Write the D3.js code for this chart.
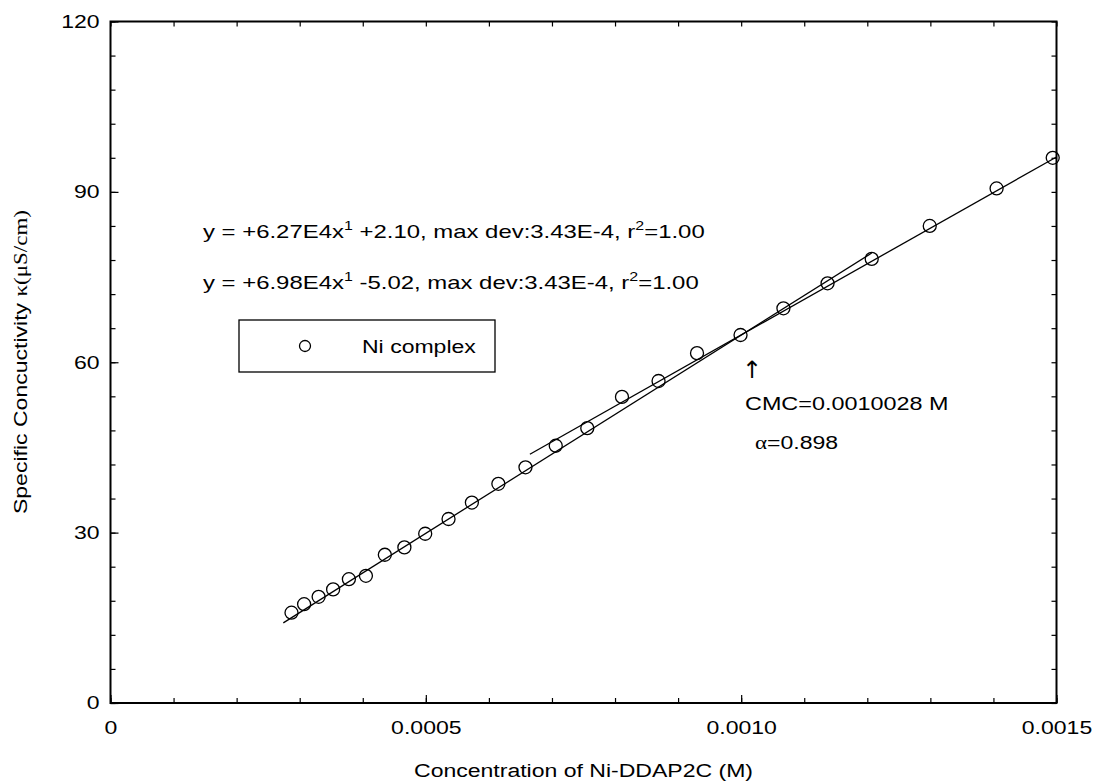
<!DOCTYPE html>
<html>
<head>
<meta charset="utf-8">
<script src="https://cdn.jsdelivr.net/npm/d3@7"></script>
<style>
body{margin:0;background:#fff}
text{font-family:"Liberation Sans",Arial,sans-serif;fill:#000}
</style>
</head>
<body>
<svg></svg>
<script>
var width=1094;
var height=784;

// measured points (M, uS/cm)
var conc=[0.000287,0.000307,0.000330,0.000353,0.000378,0.000405,0.000435,0.000466,0.000499,
	0.000536,0.000573,0.000615,0.000658,0.000706,0.000756,0.000811,0.000869,0.000930,0.000999,
	0.001067,0.001137,0.001207,0.001299,0.001405,0.001494];
var kappa=[15.9,17.4,18.7,20.0,21.8,22.4,26.1,27.4,29.8,
	32.4,35.3,38.6,41.5,45.3,48.4,53.9,56.7,61.6,64.8,
	69.5,73.9,78.2,84.0,90.6,96.0];

// linear fits: below / above cmc
var fitSlope=[6.98e4,6.27e4];
var fitIntercept=[-5.02,2.10];
var fitFrom=[0.000274,0.000665];
var fitTo=[0.001207,0.0015];

var xMajor=[0,0.0005,0.0010,0.0015];
var xLabels=["0","0.0005","0.0010","0.0015"];
var xMinor=d3.range(0,16).map(d=>d*0.0001);
var yMajor=[0,30,60,90,120];
var yLabels=["0","30","60","90","120"];
var yMinor=d3.range(0,21).map(d=>d*6);

var padL=110.5, padR=1056.5, padT=21.5, padB=703;
var fs="18px";
var sx=1.28;   // the original lettering is wide

var svg=d3.select("svg")
	.attr("width",width)
	.attr("height",height);

var scalex=d3.scaleLinear()
	.domain([0,0.0015])
	.range([padL,padR]);

var scaley=d3.scaleLinear()
	.domain([0,120])
	.range([padB,padT]);

function styleAxis(g){
	g.select(".domain").remove();
	g.selectAll("line").attr("stroke","#000").attr("stroke-width",1.2);
	g.selectAll("text")
		.attr("font-family",null)
		.attr("font-size",null)
		.style("font-size",fs)
		.attr("transform","scale("+sx+",1)");
}

function label(x,y,str,extra,k){
	return svg.append("text")
		.attr("transform","translate("+x+","+y+")"+(extra||"")+" scale("+(k||sx)+",1)")
		.style("font-size",fs)
		.text(str);
}

// minor ticks on all four sides
svg.append("g").attr("transform","translate(0,"+padB+")")
	.call(d3.axisBottom(scalex).tickValues(xMinor).tickSize(-5).tickFormat(""))
	.call(styleAxis);
svg.append("g").attr("transform","translate(0,"+padT+")")
	.call(d3.axisTop(scalex).tickValues(xMinor).tickSize(-5).tickFormat(""))
	.call(styleAxis);
svg.append("g").attr("transform","translate("+padL+",0)")
	.call(d3.axisLeft(scaley).tickValues(yMinor).tickSize(-5).tickFormat(""))
	.call(styleAxis);
svg.append("g").attr("transform","translate("+padR+",0)")
	.call(d3.axisRight(scaley).tickValues(yMinor).tickSize(-5).tickFormat(""))
	.call(styleAxis);

// major ticks with labels
svg.append("g").attr("transform","translate(0,"+padB+")")
	.call(d3.axisBottom(scalex).tickValues(xMajor).tickSize(-8).tickPadding(18)
		.tickFormat((d,i)=>xLabels[i]))
	.call(styleAxis);
svg.append("g").attr("transform","translate("+padL+",0)")
	.call(d3.axisLeft(scaley).tickValues(yMajor).tickSize(-8).tickPadding(8.5)
		.tickFormat((d,i)=>yLabels[i]))
	.call(styleAxis);

// frame
svg.append("rect")
	.attr("x",padL).attr("y",padT)
	.attr("width",padR-padL).attr("height",padB-padT)
	.attr("fill","none").attr("stroke","#000").attr("stroke-width",2);

// fit lines
fitSlope.forEach(function(m,i){
	svg.append("line")
		.attr("x1",scalex(fitFrom[i]))
		.attr("y1",scaley(m*fitFrom[i]+fitIntercept[i]))
		.attr("x2",scalex(fitTo[i]))
		.attr("y2",scaley(m*fitTo[i]+fitIntercept[i]))
		.attr("stroke","#000")
		.attr("stroke-width",1.3);
});

// points
svg.selectAll(".pt")
	.data(conc)
	.enter()
	.append("circle")
	.classed("pt",true)
	.attr("cx",d=>scalex(d))
	.attr("cy",(d,i)=>scaley(kappa[i]))
	.attr("r",6.5)
	.attr("fill","none")
	.attr("stroke","#000")
	.attr("stroke-width",1.3);

// equations
function equation(y,parts){
	var t=label(203,y,null,"",1.33);
	t.append("tspan").text(parts[0]);
	t.append("tspan").attr("dy",-8).style("font-size","12px").text("1");
	t.append("tspan").attr("dy",8).text(parts[1]);
	t.append("tspan").attr("dy",-8).style("font-size","12px").text("2");
	t.append("tspan").attr("dy",8).text("=1.00");
}
equation(238,["y = +6.27E4x"," +2.10, max dev:3.43E-4, r"]);
equation(289,["y = +6.98E4x"," -5.02, max dev:3.43E-4, r"]);

// legend
svg.append("rect")
	.attr("x",239).attr("y",320).attr("width",256).attr("height",52)
	.attr("fill","none").attr("stroke","#000").attr("stroke-width",1.3);
svg.append("circle")
	.attr("cx",305).attr("cy",346).attr("r",5.5)
	.attr("fill","none").attr("stroke","#000").attr("stroke-width",1.3);
label(362,352.5,"Ni complex");

// cmc annotation
svg.append("text").attr("x",742).attr("y",378)
	.style("font-size","24px").style("font-family","DejaVu Sans, sans-serif")
	.style("fill","#000")
	.text("\u2191");
label(745,410,"CMC=0.0010028 M","",1.3);
var al=label(755,449,null);
al.append("tspan").style("font-family","'Liberation Serif',serif").text("\u03b1");
al.append("tspan").text("=0.898");

// axis titles
label((padL+padR)/2,777,"Concentration of Ni-DDAP2C (M)")
	.style("text-anchor","middle");

var yt=label(27,362,null," rotate(-90)")
	.style("text-anchor","middle");
yt.append("tspan").text("Specific Concuctivity ");
yt.append("tspan").style("font-family","'Liberation Serif',serif").text("\u03ba(\u03bcS/cm)");
</script>
</body>
</html>
